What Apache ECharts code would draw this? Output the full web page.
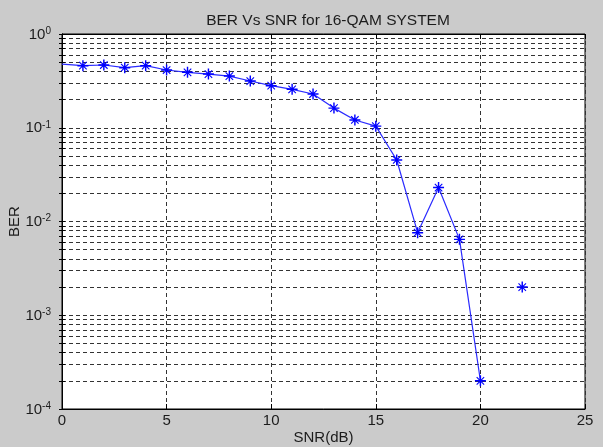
<!DOCTYPE html>
<html>
<head>
<meta charset="utf-8">
<script src="https://cdn.jsdelivr.net/npm/echarts@6/dist/echarts.min.js"></script>
<style>
  html, body { margin: 0; padding: 0; background: #cbcbcb; }
  #chart { width: 603px; height: 447px; }
</style>
</head>
<body>
<div id="chart"></div>
<script>
// Simulated bit error rate of a 16-QAM link versus signal-to-noise ratio
const snrDb = [0, 1, 2, 3, 4, 5, 6, 7, 8, 9, 10, 11, 12, 13, 14, 15, 16, 17, 18, 19, 20, 21, 22];
// no errors counted at 21 dB, so that point has no place on a log axis
const ber = [0.478, 0.459, 0.467, 0.437, 0.459, 0.413, 0.39, 0.374, 0.356, 0.315, 0.281,
             0.257, 0.229, 0.162, 0.121, 0.104, 0.0453, 0.0076, 0.023, 0.00645, 0.0002, null, 0.002];

const xTicks = [0, 5, 10, 15, 20, 25];
const yDecades = [1e-4, 1e-3, 1e-2, 1e-1, 1];

// every 1..9 multiple inside each decade, for the log grid
const yLogGrid = [];
for (let d = 0; d < yDecades.length - 1; d++) {
  for (let m = 1; m <= 9; m++) yLogGrid.push(+(m * yDecades[d]).toPrecision(3));
}
yLogGrid.push(1);

const FONT = 'Liberation Sans';
const INK = '#1c1c1c';
const gridDash = { color: '#333333', width: 1, type: [4, 3] };

// MATLAB-style asterisk marker
const asterisk = 'path://M8.7 0H11.3V20H8.7Z M0 8.7H20V11.3H0Z ' +
  'M3.9 2.5L17.5 16.1L16.1 17.5L2.5 3.9Z M16.1 2.5L17.5 3.9L3.9 17.5L2.5 16.1Z';

const points = snrDb.map((x, i) => {
  const item = { value: [x, ber[i]] };
  if (i === 0) item.symbol = 'none';
  return item;
});

const decadeLabel = v => '{b|10}{s|' + Math.round(Math.log10(v)) + '}';

const chart = echarts.init(document.getElementById('chart'), null, { renderer: 'canvas' });
chart.setOption({
  backgroundColor: '#cbcbcb',
  animation: false,
  title: {
    text: 'BER Vs SNR for 16-QAM SYSTEM',
    left: 323, top: 8, textAlign: 'center',
    textStyle: { fontFamily: FONT, fontSize: 15.5, fontWeight: 'normal', color: INK }
  },
  grid: {
    left: 62, right: 18, top: 34, bottom: 38,
    outerBoundsMode: 'none', containLabel: false,
    show: true, backgroundColor: '#ffffff', borderColor: '#000', borderWidth: 1
  },
  xAxis: [{
    type: 'value', min: 0, max: 25, interval: 5,
    name: 'SNR(dB)', nameLocation: 'middle', nameGap: 21, nameMoveOverlap: false,
    nameTextStyle: { fontFamily: FONT, fontSize: 15, color: INK },
    axisLine: { show: true, lineStyle: { color: '#000', width: 1 } },
    axisTick: { show: true, inside: true, length: 5, lineStyle: { color: '#000' } },
    axisLabel: { fontFamily: FONT, fontSize: 15, color: INK, margin: 4,
                 customValues: xTicks },
    splitLine: { show: true, lineStyle: gridDash }
  }, {
    type: 'value', min: 0, max: 25, interval: 5, position: 'top',
    axisLine: { show: true, lineStyle: { color: '#000', width: 1 } },
    axisTick: { show: true, inside: true, length: 5, lineStyle: { color: '#000' } },
    axisLabel: { show: false }, splitLine: { show: false }
  }],
  yAxis: [{
    type: 'log', logBase: 10, min: 1e-4, max: 1,
    name: 'BER', nameLocation: 'middle', nameGap: 40, nameMoveOverlap: false,
    nameTextStyle: { fontFamily: FONT, fontSize: 15, color: INK },
    axisLine: { show: true, lineStyle: { color: '#000', width: 1 } },
    axisTick: { show: true, inside: true, length: 3, lineStyle: { color: '#000' },
                customValues: yLogGrid },
    axisLabel: {
      customValues: yDecades, margin: 11,
      formatter: decadeLabel,
      rich: {
        b: { fontFamily: FONT, fontSize: 15, color: INK, lineHeight: 16, verticalAlign: 'bottom' },
        s: { fontFamily: FONT, fontSize: 10, color: INK, lineHeight: 16, verticalAlign: 'top', padding: [0, 0, 9, 0] }
      }
    },
    splitLine: { show: true, lineStyle: gridDash }
  }, {
    type: 'log', logBase: 10, min: 1e-4, max: 1, position: 'right',
    axisLine: { show: true, lineStyle: { color: '#000', width: 1 } },
    axisTick: { show: true, inside: true, length: 3, lineStyle: { color: '#000' },
                customValues: yLogGrid },
    axisLabel: { show: false }, splitLine: { show: false }
  }],
  series: [{
    type: 'line',
    xAxisIndex: 0, yAxisIndex: 0,
    data: points,
    connectNulls: false,
    symbol: asterisk, symbolSize: 11,
    showAllSymbol: true,
    lineStyle: { color: '#2a2aff', width: 1.2 },
    itemStyle: { color: '#0000ff' },
    clip: false
  }]
});
</script>
</body>
</html>
